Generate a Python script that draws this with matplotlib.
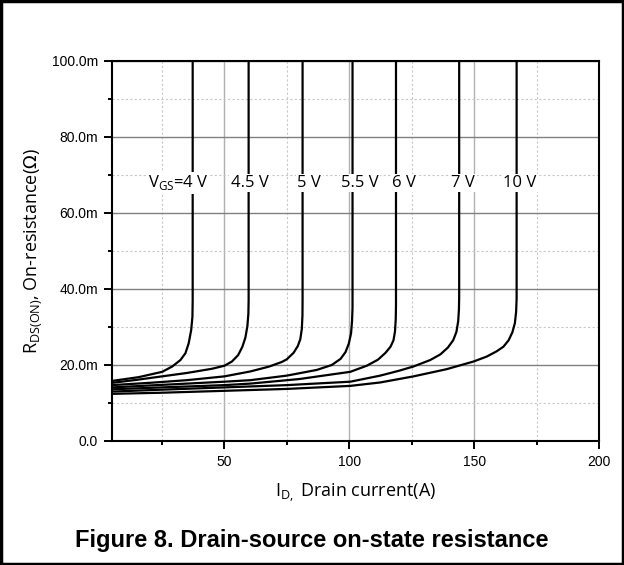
import matplotlib
matplotlib.use("Agg")
import matplotlib.pyplot as plt
from matplotlib.ticker import MultipleLocator, FuncFormatter
from matplotlib.patches import Rectangle

# drain current (A) / on-resistance (mOhm)
id_4v = [5, 15.7, 25.1, 29.1, 32.4, 34.4, 35.7, 36.7, 37.2, 37.3, 37.3]
r_4v = [15.8, 16.8, 18.2, 19.6, 21.3, 23.1, 25.7, 29.2, 32.7, 37.0, 100]

id_45v = [5, 15, 25, 35, 45, 50, 53, 55.5, 57.2, 58.4, 59.2, 59.6, 59.7, 59.7]
r_45v = [15.3, 16.1, 17.0, 17.9, 19.0, 19.8, 20.9, 22.6, 24.8, 27.2, 30.2, 33.5, 37.0, 100]

id_5v = [5, 20, 35, 50, 60.4, 68, 73, 75, 77.7, 79.4, 80.4, 81, 81.25, 81.3, 81.3]
r_5v = [14.7, 15.3, 16.0, 17.0, 18.3, 19.6, 20.8, 21.5, 23.2, 25.0, 26.8, 29.5, 33.0, 37.0, 100]

id_55v = [5, 20, 35, 50, 60.4, 75, 87, 93, 96.5, 98.5, 99.8, 100.7, 101.1, 101.3, 101.3]
r_55v = [14.1, 14.6, 15.1, 15.6, 16.0, 17.2, 18.7, 20.0, 21.6, 23.4, 25.6, 28.3, 31.5, 35.0, 100]

id_6v = [5, 25, 50, 60.4, 80, 100.4, 107, 111.5, 114.5, 116.5, 117.7, 118.3, 118.6, 118.7, 118.7]
r_6v = [13.6, 14.1, 14.7, 15.1, 16.3, 18.2, 19.8, 21.4, 23.2, 24.8, 26.5, 28.8, 32.0, 35.5, 100]

id_7v = [5, 25, 50, 75, 100.4, 112.4, 120, 125.7, 132.4, 136.5, 139.5, 141.6, 142.9, 143.6, 143.9, 144, 144]
r_7v = [13.0, 13.5, 14.1, 14.7, 15.6, 17.2, 18.5, 19.6, 21.3, 22.8, 24.6, 26.5, 28.7, 31.5, 34.5, 38.0, 100]

id_10v = [5, 25, 50, 75, 100.4, 112.4, 125.7, 139, 149.7, 155, 159, 161.7, 163.8, 165.3, 166.3, 166.8, 167, 167]
r_10v = [12.4, 12.7, 13.2, 13.7, 14.5, 15.4, 17.0, 18.9, 20.9, 22.2, 23.6, 24.8, 26.5, 28.6, 31.0, 34.0, 37.5, 100]

curves = [(id_4v, r_4v), (id_45v, r_45v), (id_5v, r_5v), (id_55v, r_55v),
          (id_6v, r_6v), (id_7v, r_7v), (id_10v, r_10v)]

vgs_labels = [r"V$_\mathregular{GS}$=4 V", "4.5 V", "5 V", "5.5 V", "6 V", "7 V", "10 V"]
label_x = [31.5, 60, 84, 104.4, 122, 145.6, 168.4]
label_y = 67.9

fig = plt.figure(figsize=(6.24, 5.65), dpi=100)
ax = fig.add_axes([0.1795, 0.2195, 0.7805, 0.6726])

for xs, ys in curves:
    ax.plot(xs, ys, color="black", lw=1.6, solid_joinstyle="round", zorder=3)

for txt, lx in zip(vgs_labels, label_x):
    ax.text(lx, label_y, txt, ha="center", va="center", fontsize=12,
            family="Open Sans", zorder=4,
            bbox=dict(facecolor="white", edgecolor="none", pad=1.0))

ax.set_xlim(5, 200)
ax.set_ylim(0, 100)
ax.xaxis.set_major_locator(MultipleLocator(50))
ax.xaxis.set_minor_locator(MultipleLocator(25))
ax.yaxis.set_major_locator(MultipleLocator(20))
ax.yaxis.set_minor_locator(MultipleLocator(10))
ax.yaxis.set_major_formatter(FuncFormatter(lambda v, p: "0.0" if v == 0 else f"{v:.1f}m"))
ax.xaxis.set_major_formatter(FuncFormatter(lambda v, p: f"{v:.0f}"))

ax.grid(which="major", axis="y", color="#808080", lw=1.0)
ax.grid(which="major", axis="x", color="#b0b0b0", lw=1.0)
ax.grid(which="minor", color="#c8c8c8", lw=0.8, ls=(0, (2, 2)))
ax.set_axisbelow(True)

for s in ax.spines.values():
    s.set_linewidth(1.5)
ax.tick_params(which="major", direction="out", length=6, width=1.4, labelsize=10, pad=4)
ax.tick_params(which="minor", direction="out", length=3, width=1.4)
for lbl in ax.get_xticklabels() + ax.get_yticklabels():
    lbl.set_family("Liberation Sans")

ax.set_xlabel(r"I$_\mathregular{D,}$ Drain current(A)", fontsize=13, family="Open Sans", labelpad=9)
ax.set_ylabel(r"R$_\mathregular{DS(ON)}$, On-resistance($\Omega$)", fontsize=13, family="Open Sans", labelpad=6)

fig.text(0.5, 1 - 541 / 565, "Figure 8. Drain-source on-state resistance", ha="center", va="center",
         fontsize=17, fontweight="bold", family="Liberation Sans")

fig.patches.append(Rectangle((0.002, 0.002), 0.996, 0.996, transform=fig.transFigure,
                             fill=False, edgecolor="black", lw=2.5))

fig.savefig("out.png", dpi=100)
